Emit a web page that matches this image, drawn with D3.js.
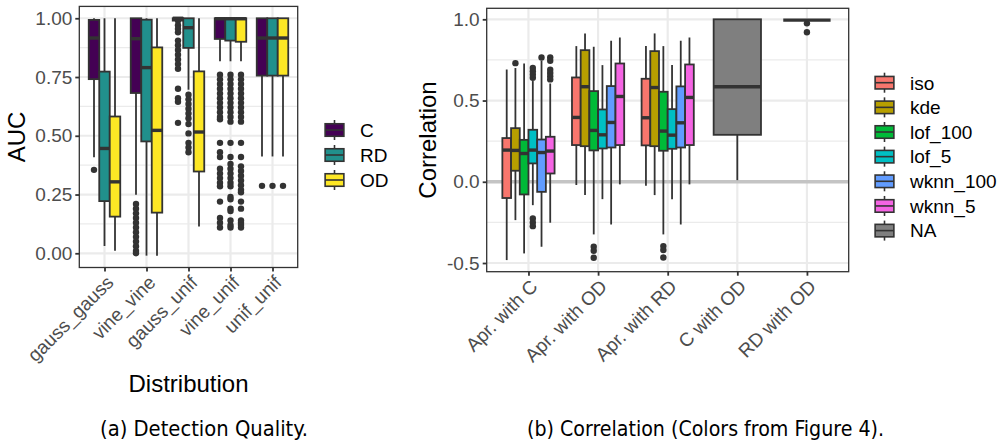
<!DOCTYPE html>
<html><head><meta charset="utf-8">
<script src="https://cdn.jsdelivr.net/npm/d3@7"></script>
<style>
body{margin:0;background:#fff}
svg{display:block}
text{font-family:"Liberation Sans",Arial,Helvetica,sans-serif}
</style>
</head><body>
<svg id="c" width="1008" height="443"></svg>
<script>
// ---------------- data ----------------
const distributions = ["gauss_gauss","vine_vine","gauss_unif","vine_unif","unif_unif"];
const aucSeries = ["C","RD","OD"];
// per distribution: [lower whisker, Q1, median, Q3, upper whisker]
const aucC  = [[0.409,0.741,0.916,0.993,1.0],[0.249,0.682,0.913,1.0,1.0],[0.985,0.99,1.0,1.0,1.0],[0.817,0.912,0.998,1.0,1.0],[0.412,0.756,0.916,1.0,1.0]];
const aucRD = [[0.031,0.222,0.446,0.773,1.0],[-0.01,0.476,0.79,0.994,1.0],[0.696,0.874,0.96,1.0,1.0],[0.817,0.905,0.998,1.0,1.0],[0.412,0.756,0.916,1.0,1.0]];
const aucOD = [[0.011,0.156,0.304,0.582,1.0],[-0.01,0.173,0.523,0.876,1.0],[0.114,0.348,0.516,0.774,1.0],[0.817,0.9,0.998,1.0,1.0],[0.412,0.756,0.916,1.0,1.0]];
const aucCOut = [
  [0.355],
  [0.21,0.19,0.17,0.15,0.13,0.11,0.09,0.07,0.05,0.03,0.01,0.0],
  [0.99,0.97,0.955,0.94,0.905,0.885,0.865,0.845,0.825,0.805,0.785,0.7,0.66,0.645,0.555],
  [0.76,0.74,0.72,0.7,0.68,0.66,0.64,0.62,0.6,0.58,0.57,0.47,0.43,0.41,0.36,0.34,0.32,0.3,0.285,0.22,0.15,0.13,0.11],
  [0.287]
];
const aucRDOut = [
  [],
  [],
  [0.675,0.655,0.635,0.615,0.595,0.575,0.55,0.51,0.47,0.45,0.43],
  [0.76,0.74,0.72,0.7,0.68,0.66,0.64,0.62,0.6,0.58,0.56,0.47,0.41,0.38,0.36,0.34,0.32,0.3,0.285,0.24,0.23,0.19,0.18,0.14,0.12,0.11],
  [0.287]
];
const aucODOut = [
  [],
  [],
  [],
  [0.76,0.74,0.72,0.7,0.68,0.66,0.64,0.62,0.6,0.58,0.56,0.47,0.41,0.37,0.35,0.33,0.31,0.29,0.27,0.26,0.22,0.19,0.14,0.13,0.12,0.11],
  [0.287]
];
const aucTicks = [0, 0.25, 0.5, 0.75, 1];

const corrCategories = ["Apr. with C","Apr. with OD","Apr. with RD","C with OD","RD with OD"];
const detectors = ["iso","kde","lof_100","lof_5","wknn_100","wknn_5","NA"];
// per detector, for Apr. with C / Apr. with OD / Apr. with RD: [lower, Q1, median, Q3, upper]
const corrIso     = [[-0.482,-0.1,0.195,0.269,0.691],[-0.02,0.226,0.396,0.642,0.835],[-0.025,0.224,0.394,0.634,0.835]];
const corrKde     = [[-0.236,0.068,0.193,0.33,0.70],[-0.082,0.219,0.585,0.81,0.913],[-0.082,0.219,0.58,0.804,0.913]];
const corrLof100  = [[-0.441,-0.078,0.174,0.258,0.728],[-0.324,0.193,0.316,0.558,0.831],[-0.324,0.191,0.312,0.554,0.835]];
const corrLof5    = [[-0.144,0.113,0.195,0.32,0.62],[-0.107,0.205,0.289,0.445,0.718],[-0.107,0.203,0.287,0.447,0.718]];
const corrWknn100 = [[-0.4,-0.062,0.18,0.26,0.745],[-0.263,0.211,0.365,0.589,0.868],[-0.263,0.211,0.363,0.587,0.868]];
const corrWknn5   = [[-0.252,0.051,0.189,0.277,0.605],[-0.016,0.226,0.525,0.728,0.888],[-0.016,0.226,0.519,0.722,0.888]];
const corrIsoOut     = [[],[],[]];
const corrKdeOut     = [[0.73],[],[]];
const corrLof100Out  = [[],[-0.4,-0.425,-0.468],[-0.396,-0.42,-0.466]];
const corrLof5Out    = [[0.64,0.66,0.68,0.70,-0.226,-0.25,-0.273],[],[]];
const corrWknn100Out = [[0.765],[],[]];
const corrWknn5Out   = [[0.765,0.745,0.69,0.67,0.65,0.63],[],[]];
// NA group: C with OD, RD with OD
const corrNA    = [[0.01,0.289,0.585,1.0,1.0],[0.995,0.995,0.995,0.995,0.995]];
const corrNAOut = [[],[0.975,0.92]];
const corrTicks = [-0.5, 0, 0.5, 1];

// ---------------- styles ----------------
const aucColors = ["#440154","#21908C","#FDE725"];
const detColors = ["#F8766D","#B79F00","#00BA38","#00BFC4","#619CFF","#F564E3","#7F7F7F"];
const INK = "#333333", GRID = "#EBEBEB", TICKTXT = "#4D4D4D";

const svg = d3.select("#c");

function drawBox(g, y, xc, w, s, outs, fill){
  const [lo,q1,med,q3,hi] = s;
  outs.forEach(v => g.append("circle").attr("cx",xc).attr("cy",y(v)).attr("r",3.2).attr("fill",INK));
  g.append("line").attr("x1",xc).attr("x2",xc).attr("y1",y(hi)).attr("y2",y(q3)).attr("stroke",INK).attr("stroke-width",1.8);
  g.append("line").attr("x1",xc).attr("x2",xc).attr("y1",y(q1)).attr("y2",y(lo)).attr("stroke",INK).attr("stroke-width",1.8);
  g.append("rect").attr("x",xc-w/2).attr("y",y(q3)).attr("width",w).attr("height",Math.max(0,y(q1)-y(q3)))
    .attr("fill",fill).attr("stroke",INK).attr("stroke-width",1.8);
  g.append("line").attr("x1",xc-w/2).attr("x2",xc+w/2).attr("y1",y(med)).attr("y2",y(med)).attr("stroke",INK).attr("stroke-width",3.4);
}

function legendKey(g, cx, cy, fill){
  const k = 25;
  g.append("line").attr("x1",cx).attr("x2",cx).attr("y1",cy-0.4*k).attr("y2",cy-0.25*k).attr("stroke",INK).attr("stroke-width",1.6);
  g.append("line").attr("x1",cx).attr("x2",cx).attr("y1",cy+0.25*k).attr("y2",cy+0.4*k).attr("stroke",INK).attr("stroke-width",1.6);
  g.append("rect").attr("x",cx-0.375*k).attr("y",cy-0.25*k).attr("width",0.75*k).attr("height",0.5*k).attr("fill",fill).attr("stroke",INK).attr("stroke-width",1.6);
  g.append("line").attr("x1",cx-0.375*k).attr("x2",cx+0.375*k).attr("y1",cy).attr("y2",cy).attr("stroke",INK).attr("stroke-width",1.6);
}

function panelBase(P, x, y, major, minor){
  const g = svg.append("g");
  minor.forEach(v => g.append("line").attr("x1",P.x0).attr("x2",P.x1).attr("y1",y(v)).attr("y2",y(v)).attr("stroke",GRID).attr("stroke-width",1.1));
  major.forEach(v => g.append("line").attr("x1",P.x0).attr("x2",P.x1).attr("y1",y(v)).attr("y2",y(v)).attr("stroke",GRID).attr("stroke-width",2.2));
  x.domain().forEach(c => g.append("line").attr("x1",x(c)).attr("x2",x(c)).attr("y1",P.y0).attr("y2",P.y1).attr("stroke",GRID).attr("stroke-width",2.2));
  return g;
}

function axes(P, x, y, fmt, ticks, anchorDy){
  const ga = svg.append("g").attr("transform",`translate(${P.x0},0)`)
    .call(d3.axisLeft(y).tickValues(ticks).tickSize(4).tickPadding(3).tickFormat(fmt));
  ga.select(".domain").remove();
  ga.selectAll(".tick line").attr("stroke",INK).attr("stroke-width",1.8);
  ga.selectAll(".tick text").attr("fill",TICKTXT).style("font-size","19px").style("font-family",'"Liberation Sans",Arial,sans-serif');
  const gb = svg.append("g").attr("transform",`translate(0,${P.y1})`)
    .call(d3.axisBottom(x).tickSize(4).tickPadding(0));
  gb.select(".domain").remove();
  gb.selectAll(".tick line").attr("stroke",INK).attr("stroke-width",1.8);
  gb.selectAll(".tick text").attr("fill",TICKTXT).style("font-size","19px").style("font-family",'"Liberation Sans",Arial,sans-serif')
    .attr("text-anchor","end").attr("y",0).attr("dy","0.72em")
    .attr("transform",`translate(0,${anchorDy}) rotate(-45)`);
  svg.append("rect").attr("x",P.x0).attr("y",P.y0).attr("width",P.x1-P.x0).attr("height",P.y1-P.y0)
    .attr("fill","none").attr("stroke",INK).attr("stroke-width",1.3);
}

// ---------------- left panel ----------------
const PL = {x0:79.3, x1:297.7, y0:6.4, y1:267.5};
const xL = d3.scalePoint().domain(distributions).range([PL.x0,PL.x1]).padding(0.6);
const yL = d3.scaleLinear().domain([-0.0605,1.0505]).range([PL.y1,PL.y0]);
const gL = panelBase(PL, xL, yL, aucTicks, [0.125,0.375,0.625,0.875]);
const aucStats = [aucC, aucRD, aucOD], aucOuts = [aucCOut, aucRDOut, aucODOut];
const wL = xL.step()*0.75/3;
distributions.forEach((d,i) => {
  aucSeries.forEach((s,j) => {
    const xc = xL(d) + (j-1)*wL;
    drawBox(gL, yL, xc, wL, aucStats[j][i], aucOuts[j][i], aucColors[j]);
  });
});
axes(PL, xL, yL, d => d.toFixed(2), aucTicks, 6.5);

svg.append("text").attr("transform","translate(25,137) rotate(-90)").attr("text-anchor","middle")
  .style("font-size","24px").attr("fill","#000").text("AUC");
svg.append("text").attr("x",(PL.x0+PL.x1)/2).attr("y",391.5).attr("text-anchor","middle")
  .style("font-size","24px").attr("fill","#000").text("Distribution");

const lgL = svg.append("g");
aucSeries.forEach((s,j) => {
  const cy = 130 + j*25;
  legendKey(lgL, 334.5, cy, aucColors[j]);
  lgL.append("text").attr("x",360).attr("y",cy).attr("dy","0.36em").style("font-size","19px").attr("fill","#000").text(s);
});

// ---------------- right panel ----------------
const PR = {x0:486.7, x1:848.7, y0:8.3, y1:271.7};
const xR = d3.scalePoint().domain(corrCategories).range([PR.x0,PR.x1]).padding(0.6);
const yR = d3.scaleLinear().domain([-0.5535,1.0677]).range([PR.y1,PR.y0]);
const gR = panelBase(PR, xR, yR, corrTicks, [-0.25,0.25,0.75]);
gR.append("line").attr("x1",PR.x0).attr("x2",PR.x1).attr("y1",yR(0)).attr("y2",yR(0)).attr("stroke","#C4C4C4").attr("stroke-width",3.5);
const corrStats = [corrIso, corrKde, corrLof100, corrLof5, corrWknn100, corrWknn5];
const corrOuts = [corrIsoOut, corrKdeOut, corrLof100Out, corrLof5Out, corrWknn100Out, corrWknn5Out];
const wR = xR.step()*0.75/6;
[0,1,2].forEach(i => {
  corrStats.forEach((st,j) => {
    const xc = xR(corrCategories[i]) + (j-2.5)*wR;
    drawBox(gR, yR, xc, wR, st[i], corrOuts[j][i], detColors[j]);
  });
});
[3,4].forEach((i,k) => {
  drawBox(gR, yR, xR(corrCategories[i]), xR.step()*0.68, corrNA[k], corrNAOut[k], detColors[6]);
});
axes(PR, xR, yR, d => d.toFixed(1), corrTicks, 6.5);

svg.append("text").attr("transform","translate(436,140) rotate(-90)").attr("text-anchor","middle")
  .style("font-size","24px").attr("fill","#000").text("Correlation");

const lgR = svg.append("g");
detectors.forEach((s,j) => {
  const cy = 82.7 + j*24.65;
  legendKey(lgR, 884.5, cy, detColors[j]);
  lgR.append("text").attr("x",910).attr("y",cy).attr("dy","0.36em").style("font-size","19px").attr("fill","#000").text(s);
});

// ---------------- captions ----------------
svg.append("text").attr("x",100).attr("y",436).attr("textLength",208).attr("lengthAdjust","spacingAndGlyphs")
  .style("font-family",'"Liberation Sans Narrow","DejaVu Sans Condensed",sans-serif').style("font-size","22px").attr("fill","#000")
  .text("(a) Detection Quality.");
svg.append("text").attr("x",527).attr("y",436).attr("textLength",357).attr("lengthAdjust","spacingAndGlyphs")
  .style("font-family",'"Liberation Sans Narrow","DejaVu Sans Condensed",sans-serif').style("font-size","22px").attr("fill","#000")
  .text("(b) Correlation (Colors from Figure 4).");
</script>
</body></html>
